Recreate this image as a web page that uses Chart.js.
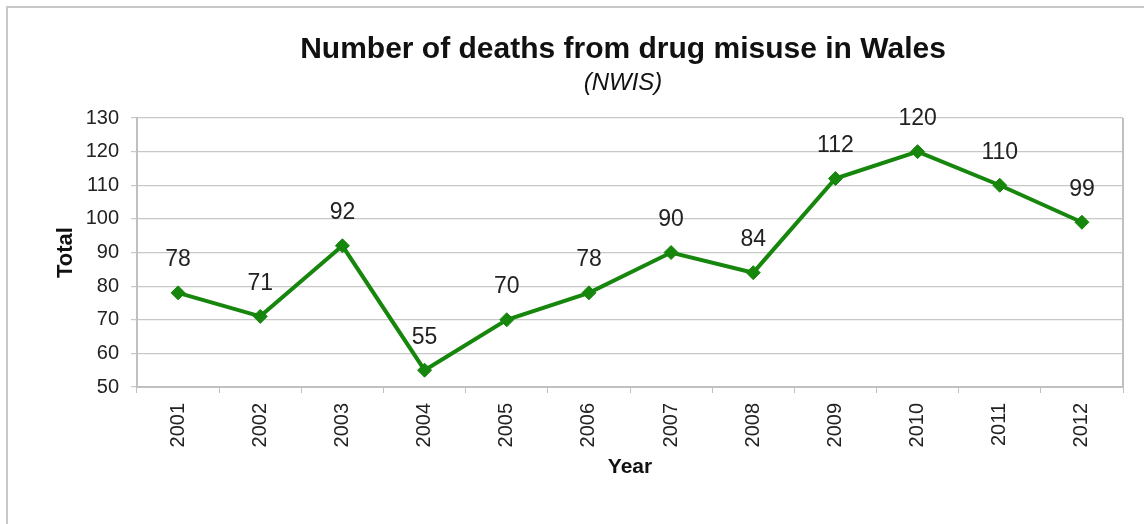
<!DOCTYPE html>
<html>
<head>
<meta charset="utf-8">
<script src="https://cdn.jsdelivr.net/npm/chart.js@4/dist/chart.umd.min.js"></script>
<style>
  html, body { margin: 0; padding: 0; background: #fff; }
  #wrap { width: 1144px; height: 524px; position: relative; }
</style>
</head>
<body>
<div id="wrap"><canvas id="drugChart" width="1144" height="524"></canvas></div>
<script>
// Chart data
const years = ['2001', '2002', '2003', '2004', '2005', '2006', '2007', '2008', '2009', '2010', '2011', '2012'];
const deaths = [78, 71, 92, 55, 70, 78, 90, 84, 112, 120, 110, 99];
const yTicks = [50, 60, 70, 80, 90, 100, 110, 120, 130];
const chartTitle = 'Number of deaths from drug misuse in Wales';
const chartSubtitle = '(NWIS)';

const lineGreen = '#16860c';
const textColor = '#222222';
const fontFamily = '"Liberation Sans", Arial, sans-serif';

// outer frame + centred title block
const framePlugin = {
    id: 'frame',
    beforeDraw(chart) {
        const ctx = chart.ctx;
        ctx.save();
        ctx.strokeStyle = '#c8c8c8';
        ctx.lineWidth = 2;
        ctx.strokeRect(7, 7, 1400, 800);
        ctx.restore();
    },
    afterDraw(chart) {
        const ctx = chart.ctx;
        const area = chart.chartArea;
        const cx = (area.left + area.right) / 2 - 7;
        ctx.save();
        ctx.fillStyle = '#111';
        ctx.textAlign = 'center';
        ctx.textBaseline = 'middle';
        ctx.font = 'bold 30px ' + fontFamily;
        ctx.fillText(chartTitle, cx, 50);
        ctx.font = 'italic 24px ' + fontFamily;
        ctx.fillText(chartSubtitle, cx, 83);
        ctx.restore();
    }
};

// value labels above each point
const valueLabels = {
    id: 'valueLabels',
    afterDatasetsDraw(chart) {
        const ctx = chart.ctx;
        const meta = chart.getDatasetMeta(0);
        ctx.save();
        ctx.fillStyle = textColor;
        ctx.font = '23px ' + fontFamily;
        ctx.textAlign = 'center';
        ctx.textBaseline = 'middle';
        meta.data.forEach((pt, i) => {
            ctx.fillText(String(deaths[i]), pt.x, pt.y - 33);
        });
        ctx.restore();
    }
};

// plot area outline (right edge)
const plotBorder = {
    id: 'plotBorder',
    beforeDatasetsDraw(chart) {
        const a = chart.chartArea;
        const ctx = chart.ctx;
        ctx.save();
        ctx.strokeStyle = '#c0c0c0';
        ctx.lineWidth = 2;
        ctx.beginPath();
        ctx.moveTo(a.right, a.top);
        ctx.lineTo(a.right, a.bottom);
        ctx.stroke();
        ctx.restore();
    }
};

new Chart(document.getElementById('drugChart'), {
    type: 'line',
    data: {
        labels: years,
        datasets: [{
            label: 'Total',
            data: deaths,
            borderColor: lineGreen,
            backgroundColor: lineGreen,
            borderWidth: 4,
            tension: 0,
            pointStyle: 'rectRot',
            pointRadius: 7,
            pointBorderWidth: 1,
            pointBackgroundColor: lineGreen,
            pointBorderColor: lineGreen
        }]
    },
    options: {
        responsive: false,
        animation: false,
        layout: { padding: { left: 0, right: 21, top: 118, bottom: 0 } },
        plugins: {
            legend: { display: false },
            title: { display: false },
            tooltip: { enabled: false }
        },
        scales: {
            x: {
                type: 'category',
                offset: true,
                afterFit(scale) { scale.height = 137; },
                grid: {
                    offset: true,
                    drawOnChartArea: false,
                    color: '#c0c0c0',
                    tickLength: 6,
                    lineWidth: 1
                },
                border: { color: '#c0c0c0', width: 2 },
                ticks: {
                    minRotation: 90,
                    maxRotation: 90,
                    padding: 10,
                    color: textColor,
                    font: { family: fontFamily, size: 20 }
                },
                title: {
                    display: true,
                    text: 'Year',
                    color: '#111',
                    padding: { top: 44, bottom: 44 },
                    font: { family: fontFamily, size: 21, weight: 'bold' }
                }
            },
            y: {
                min: 50,
                max: 130,
                afterFit(scale) { scale.width = 137; },
                afterBuildTicks(scale) { scale.ticks = yTicks.map(v => ({ value: v })); },
                grid: {
                    color: '#c8c8c8',
                    lineWidth: 1.2,
                    tickLength: 6
                },
                border: { color: '#c0c0c0', width: 2 },
                ticks: {
                    padding: 12,
                    color: textColor,
                    font: { family: fontFamily, size: 20 }
                },
                title: {
                    display: true,
                    text: 'Total',
                    color: '#111',
                    padding: { top: 53, bottom: 53 },
                    font: { family: fontFamily, size: 22, weight: 'bold' }
                }
            }
        }
    },
    plugins: [framePlugin, plotBorder, valueLabels]
});
</script>
</body>
</html>
